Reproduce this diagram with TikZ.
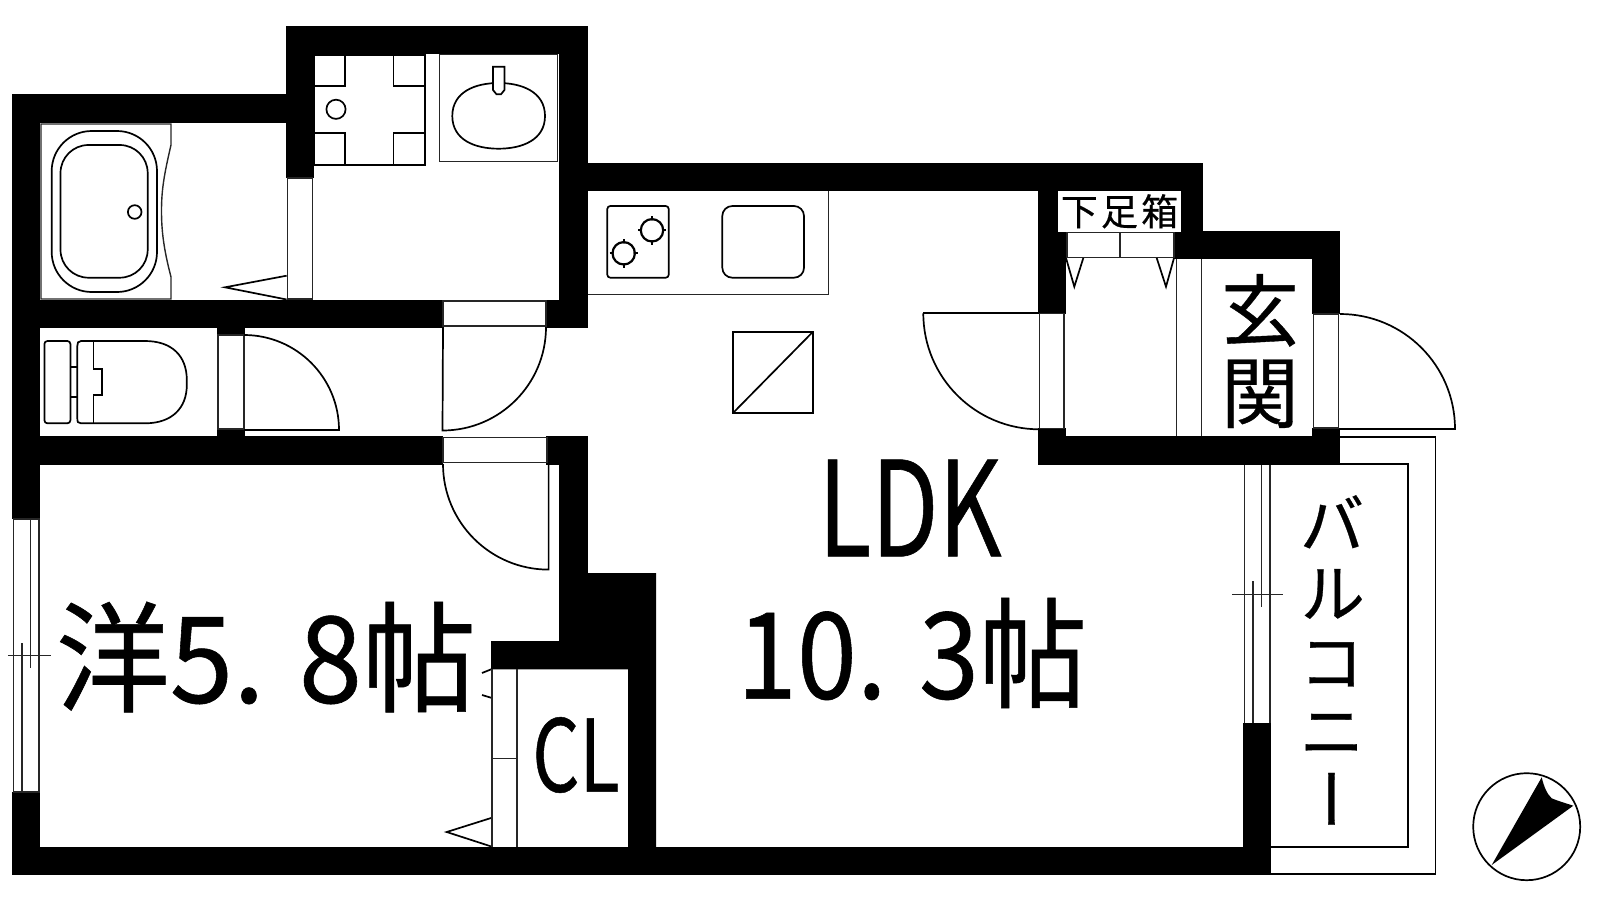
\documentclass[tikz,border=0pt]{standalone}
\usepackage{xcolor}
\usepackage{fontspec}
\setmainfont[FakeBold=0.5]{Noto Sans CJK JP}
\newfontfamily\vertfont[RawFeature=+vert, FakeBold=0.5]{Noto Sans CJK JP}
\usepackage{tikz}
\tikzset{
    wall/.style={fill=black},
    fixture/.style={draw=black, line width=.85pt},
    thinline/.style={draw=black!85, line width=.7pt},
    roomlabel/.style={inner sep=0pt, transform shape, align=center}
}

\begin{document}
\begin{tikzpicture}[x=.5pt, y=-.5pt]
        \useasboundingbox (0,0) rectangle (1600,900);

        % Walls
        \fill[wall] (12,94) rectangle (314,122.7);
        \fill[wall] (12,94) rectangle (40,519);
        \fill[wall] (12,792) rectangle (40,875);
        \fill[wall] (12,846.7) rectangle (1271,875);
        \fill[wall] (286,26) rectangle (314,178);
        \fill[wall] (286,26) rectangle (588,54);
        \fill[wall] (559,26) rectangle (588,328);
        \fill[wall] (12,300) rectangle (443,328);
        \fill[wall] (546,300) rectangle (588,328);
        \fill[wall] (217,328) rectangle (245,335);
        \fill[wall] (217,429) rectangle (245,436);
        \fill[wall] (12,436) rectangle (443,465);
        \fill[wall] (546,436) rectangle (588,465);
        \fill[wall] (559,436) rectangle (588,573);
        \fill[wall] (559,573) -- (656,573) -- (656,847) -- (628,847) -- (628,669.3) -- (491,669.3) -- (491,641) -- (559,641) -- cycle;
        \fill[wall] (588,163.3) rectangle (1203,190.7);
        \fill[wall] (1038,163.3) rectangle (1066,314);
        \fill[wall] (1174,163.3) rectangle (1203,259);
        \fill[wall] (1174,231) rectangle (1340,259);
        \fill[wall] (1312,231) rectangle (1340,314);
        \fill[wall] (1038,436) rectangle (1340,465);
        \fill[wall] (1038,428) rectangle (1066,465);
        \fill[wall] (1312,428) rectangle (1340,465);
        \fill[wall] (1243,723) rectangle (1271,875);

        % Door frames
        \draw[thinline] (287.5,178) rectangle (312.7,299);
        \draw[thinline] (218,335) rectangle (243.8,429);
        \draw[thinline] (443,301) rectangle (546,326);
        \draw[thinline] (443,437.5) rectangle (547,462.7);
        \draw[thinline] (1039.3,313.3) rectangle (1064,428.7);
        \draw[thinline] (1313.3,314) rectangle (1338.3,428);
        \draw[thinline] (1176.7,259) -- (1176.7,436);
        \draw[thinline] (1201.7,259) -- (1201.7,436);

        % Door leaves
        \draw[fixture] (244,335) arc[start angle=90, end angle=0, radius=47.5pt] -- (244,430);
        \draw[fixture] (546,327) arc[start angle=0, end angle=-90, radius=51.75pt] -- (443,327);
        \draw[fixture] (443,464) arc[start angle=180, end angle=270, radius=52.8pt] -- (548.6,463);
        \draw[fixture] (923.3,313.3) arc[start angle=180, end angle=270, radius=58pt];
        \draw[fixture] (923.3,313.3) -- (1039.3,313.3);
        \draw[fixture] (1340,314) arc[start angle=90, end angle=0, radius=57.5pt] -- (1340,429);

        % Folding door marks
        \draw[fixture] (286.6,275.7) -- (225,287.3) -- (286.6,299.5);
        \draw[fixture] (492,817.7) -- (446.7,832) -- (492,846.7);
        \draw[fixture] (492,669) -- (482,673);
        \draw[fixture] (492,698) -- (482,695);
        \draw[thinline] (492,669.3) -- (492,846.7);
        \draw[thinline] (517,669.3) -- (517,846.7);
        \draw[thinline] (492,758.7) -- (517,758.7);

        % Bath
        \draw[thinline] (41,299) -- (41,124) -- (171,124) -- (171,145) .. controls (164,175) and (161.5,190) .. (161.5,211) .. controls (161.5,232) and (164,250) .. (171,277) -- (171,299) -- cycle;
        \draw[fixture, rounded corners=20pt] (51.7,131) rectangle (157,292);
        \draw[fixture, rounded corners=14pt] (60.5,145) rectangle (147.7,277.7);
        \draw[fixture] (134.7,212) circle[radius=3.4pt];

        % Washer pan
        \draw[fixture] (314,55) rectangle (424.8,164.7);
        \draw[fixture] (344.8,55) -- (344.8,85.7) -- (314,85.7);
        \draw[fixture] (393.4,55) -- (393.4,85.7) -- (424.8,85.7);
        \draw[fixture] (314,133.3) -- (344.8,133.3) -- (344.8,164.7);
        \draw[fixture] (424.8,133.3) -- (393.4,133.3) -- (393.4,164.7);
        \draw[fixture] (336,109.3) circle[radius=4.8pt];

        % Basin
        \draw[thinline] (439.3,54.3) rectangle (557.6,161.7);
        \draw[fixture] (452.3,116) .. controls (452.3,92) and (475,83) .. (498.6,83) .. controls (522,83) and (545,92) .. (545,116) .. controls (545,140) and (522,148.7) .. (498.6,148.7) .. controls (475,148.7) and (452.3,140) .. (452.3,116) -- cycle;
        \draw[fixture, fill=white] (493,66.7) -- (504.4,66.7) -- (504.4,90) -- (501,94.3) -- (496.5,94.3) -- (493,90) -- cycle;

        % Toilet
        \draw[fixture, rounded corners=1.5pt] (44.4,341) rectangle (70.4,423.3);
        \draw[fixture] (70.4,367.3) -- (77.3,367.3);
        \draw[fixture] (70.4,396.7) -- (77.3,396.7);
        \draw[fixture] (81,341) .. controls (78,341) and (77.3,343) .. (77.3,346) -- (77.3,418) .. controls (77.3,422) and (78,423.3) .. (81,423.3) -- (145,423.3) .. controls (172,423.3) and (186.8,408) .. (186.8,385) -- (186.8,380) .. controls (186.8,356) and (172,341) .. (145,341) -- cycle;
        \draw[fixture] (93.4,341) -- (93.4,369) -- (102,369) -- (102,395) -- (93.4,395) -- (93.4,423.3);

        % Kitchen
        \draw[thinline] (828.7,190.7) -- (828.7,294.3) -- (588,294.3);
        \draw[fixture, rounded corners=1.5pt] (607.3,206) rectangle (668.7,277.7);
        \draw[fixture, rounded corners=5pt] (722.3,206) rectangle (804,277.7);
        \draw[fixture] (638,230.3) -- (666,230.3);
        \draw[fixture] (652,216) -- (652,244.5);
        \draw[fixture] (609.7,253.3) -- (637.7,253.3);
        \draw[fixture] (623.7,239) -- (623.7,267.5);
        \fill[white] (652,230.3) circle[radius=5pt];
        \fill[white] (623.7,253.3) circle[radius=5pt];
        \draw[fixture, line width=1.1pt] (652,230.3) circle[radius=5.6pt];
        \draw[fixture, line width=1.1pt] (623.7,253.3) circle[radius=5.6pt];

        % Pipe shaft
        \draw[fixture] (733.3,332) rectangle (812.7,412.7);
        \draw[fixture] (733.3,412.7) -- (812.7,332);

        % Shoe box
        \draw[thinline] (1067,232.3) rectangle (1174,257.3);
        \draw[thinline] (1120,232.3) -- (1120,257.3);
        \draw[fixture] (1066,258) -- (1074.3,286.7) -- (1083.3,258);
        \draw[fixture] (1156.7,258) -- (1166,286.7) -- (1174,258);
        \node[fill=white, inner sep=0pt, minimum width=61.5pt, minimum height=20.6pt, font=\fontsize{18.5}{20}\selectfont] (shoebox) at (1119.5,211.3) {下\kern1.6pt 足\kern1.6pt 箱};

        % Windows
        \draw[thinline] (13.4,519) rectangle (39,792);
        \draw[thinline] (30.4,519) -- (30.4,668);
        \draw[thinline] (22,643) -- (22,792);
        \draw[thinline] (7.8,655.7) -- (51,655.7);
        \draw[thinline] (1244.3,465) -- (1244.3,723);
        \draw[thinline] (1270,465) -- (1270,723);
        \draw[thinline] (1261.3,465) -- (1261.3,606.7);
        \draw[thinline] (1253,581) -- (1253,723);
        \draw[thinline] (1232.3,594.3) -- (1282.7,594.3);

        % Balcony
        \draw[fixture] (1340,436.7) -- (1435.5,436.7) -- (1435.5,874.3) -- (1271,874.3);
        \draw[fixture] (1325,464) -- (1407.7,464) -- (1407.7,847.3) -- (1271,847.3);

        % Compass
        \draw[fixture] (1526.7,826.7) circle[radius=26.75pt];
        \fill (1491.7,865) -- (1541.7,777.3) .. controls (1544,787) and (1547,794) .. (1551.7,798.3) .. controls (1558,801) and (1565,803) .. (1573.3,805.7) -- cycle;

        % Labels
        \node[roomlabel, xscale=.74, font=\fontsize{66}{66}\selectfont] (ldk) at (910,508) {LDK};
        \node[roomlabel, xscale=.9, font=\fontsize{60}{60}\selectfont] (ldkarea) at (912,653) {10. 3帖};
        \node[roomlabel, xscale=.95, font=\fontsize{60}{60}\selectfont] (western) at (266,657) {洋5. 8帖};
        \node[roomlabel, xscale=.74, font=\fontsize{50}{50}\selectfont] (closet) at (576,755) {CL};
        \node[roomlabel, font=\fontsize{39}{41}\selectfont] (entrance) at (1260,351) {玄\\関};
        \node[roomlabel, font=\vertfont\fontsize{33}{34.5}\selectfont] (balcony) at (1332,660) {バ\\ル\\コ\\ニ\\ー};
    \end{tikzpicture}
\end{document}
